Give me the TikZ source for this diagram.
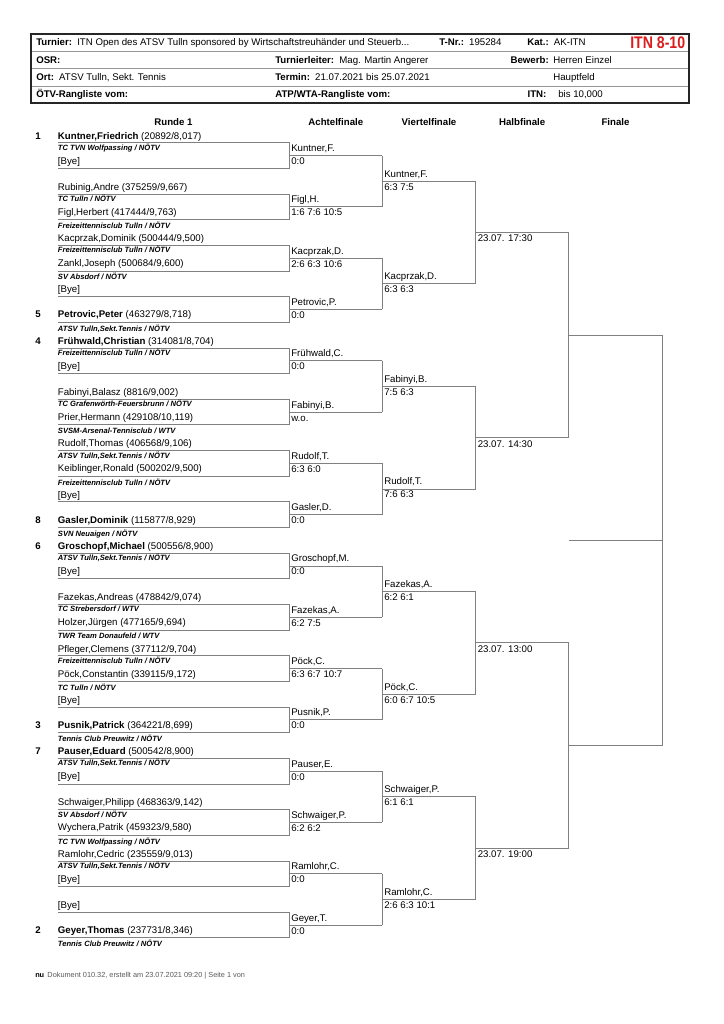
\documentclass[tikz,border=0pt]{standalone}
\usepackage{fontspec}
\setmainfont{Liberation Sans}
\definecolor{lnc}{RGB}{128,128,128}
\definecolor{hdline}{RGB}{150,150,150}
\definecolor{itnred}{RGB}{222,28,28}
\definecolor{foot}{RGB}{90,90,90}
\tikzset{
  ln/.style={draw=lnc, line width=0.6pt},
  nm/.style={anchor=base west, inner sep=0pt, font=\fontsize{7.25}{8.5}\selectfont},
  nmr/.style={anchor=base east, inner sep=0pt, font=\fontsize{7.25}{8.5}\selectfont\bfseries},
  seedtxt/.style={anchor=base west, inner sep=0pt, font=\fontsize{7.25}{8.5}\selectfont\bfseries},
  club/.style={anchor=base west, inner sep=0pt, font=\fontsize{5.7}{6.5}\selectfont\bfseries\itshape},
  colhd/.style={anchor=base, inner sep=0pt, font=\fontsize{7.25}{8.5}\selectfont\bfseries},
}
% #1 index, #2 player A, #3 club A, #4 player B, #5 club B, #6 winner, #7 score, #8 seed A, #9 seed B
\newcommand\rmatch[9]{%
  \pgfmathsetmacro\m{155.5+51.3*(#1-1)}
  \draw[ln] (57.7,\m-12.8) -- (289.3,\m-12.8) -- (289.3,\m+12.8) -- (57.7,\m+12.8);
  \draw[ln] (289.3,\m) -- (382.3,\m);
  \node[seedtxt] (sa#1) at (35,\m-16.5) {#8};
  \node[seedtxt] (sb#1) at (35,\m+8.5) {#9};
  \node[nm] (pa#1) at (57.7,\m-16.5) {#2};
  \node[club] (ca#1) at (57.7,\m-5.3) {#3};
  \node[nm] (pb#1) at (57.7,\m+8.5) {#4};
  \node[club] (cb#1) at (57.7,\m+21.7) {#5};
  \node[nm] (wn#1) at (291,\m-4) {#6};
  \node[nm] (ws#1) at (291,\m+9) {#7};
}
\newcommand\qfmatch[3]{%
  \pgfmathsetmacro\ya{155.5+51.3*(2*#1-2)}
  \pgfmathsetmacro\yb{\ya+51.3}
  \pgfmathsetmacro\q{\ya+25.65}
  \draw[ln] (382.3,\ya) -- (382.3,\yb);
  \draw[ln] (382.3,\q) -- (475.7,\q);
  \node[nm] (qn#1) at (384,\q-4) {#2};
  \node[nm] (qs#1) at (384,\q+9) {#3};
}
\newcommand\hfmatch[2]{%
  \pgfmathsetmacro\ya{155.5+51.3*(4*#1-3.5)}
  \pgfmathsetmacro\yb{\ya+102.6}
  \pgfmathsetmacro\h{\ya+51.3}
  \draw[ln] (475.7,\ya) -- (475.7,\yb);
  \draw[ln] (475.7,\h) -- (568.7,\h);
  \node[nm] (hd#1) at (477.5,\h+9.5) {#2};
}
\begin{document}
\begin{tikzpicture}[x=0.75pt,y=-0.75pt]
\useasboundingbox (0,0) rectangle (724,1024);
\fill[white] (0,0) rectangle (724,1024);

% ---------- header box ----------
\draw[hdline, line width=0.6pt] (31,51) -- (689,51);
\draw[hdline, line width=0.6pt] (31,68.5) -- (689,68.5);
\draw[hdline, line width=0.6pt] (31,86) -- (689,86);
\draw[black!85, line width=1.3pt] (31,34) rectangle (689,103);

\node[nm] (h11) at (36,46) {\textbf{Turnier:}\, ITN Open des ATSV Tulln sponsored by Wirtschaftstreuhänder und Steuerb...};
\node[nm] (h12) at (439,46) {\textbf{T-Nr.:}\, 195284};
\node[nm] (h13) at (527,46) {\textbf{Kat.:}\, AK-ITN};
\node[anchor=base west, inner sep=0pt, text=itnred, font=\fontsize{12.6}{14}\selectfont\bfseries] (h14) at (630,48.5) {\scalebox{0.84}[1]{ITN 8-10}};

\node[nm] (h21) at (36,63.3) {\textbf{OSR:}};
\node[nm] (h22) at (275,63.3) {\textbf{Turnierleiter:}\, Mag. Martin Angerer};
\node[nmr] (h23) at (549,63.3) {Bewerb:};
\node[nm] (h24) at (553,63.3) {Herren Einzel};

\node[nm] (h31) at (36,80.8) {\textbf{Ort:}\, ATSV Tulln, Sekt. Tennis};
\node[nm] (h32) at (275,80.8) {\textbf{Termin:}\, 21.07.2021 bis 25.07.2021};
\node[nm] (h33) at (553,80.8) {Hauptfeld};

\node[nm] (h41) at (36,98) {\textbf{ÖTV-Rangliste vom:}};
\node[nm] (h42) at (275,98) {\textbf{ATP/WTA-Rangliste vom:}};
\node[nmr] (h43) at (546.7,98) {ITN:};
\node[nm] (h44) at (558,98) {bis 10,000};

% ---------- column headings ----------
\node[colhd] (c1) at (173.5,125.5) {Runde 1};
\node[colhd] (c2) at (335.8,125.5) {Achtelfinale};
\node[colhd] (c3) at (429,125.5) {Viertelfinale};
\node[colhd] (c4) at (522.2,125.5) {Halbfinale};
\node[colhd] (c5) at (615.5,125.5) {Finale};

% ---------- round 1 ----------
\rmatch{1}{\textbf{Kuntner,Friedrich} (20892/8,017)}{TC TVN Wolfpassing / NÖTV}{[Bye]}{}{Kuntner,F.}{0:0}{1}{}
\rmatch{2}{Rubinig,Andre (375259/9,667)}{TC Tulln / NÖTV}{Figl,Herbert (417444/9,763)}{Freizeittennisclub Tulln / NÖTV}{Figl,H.}{1:6 7:6 10:5}{}{}
\rmatch{3}{Kacprzak,Dominik (500444/9,500)}{Freizeittennisclub Tulln / NÖTV}{Zankl,Joseph (500684/9,600)}{SV Absdorf / NÖTV}{Kacprzak,D.}{2:6 6:3 10:6}{}{}
\rmatch{4}{[Bye]}{}{\textbf{Petrovic,Peter} (463279/8,718)}{ATSV Tulln,Sekt.Tennis / NÖTV}{Petrovic,P.}{0:0}{}{5}
\rmatch{5}{\textbf{Frühwald,Christian} (314081/8,704)}{Freizeittennisclub Tulln / NÖTV}{[Bye]}{}{Frühwald,C.}{0:0}{4}{}
\rmatch{6}{Fabinyi,Balasz (8816/9,002)}{TC Grafenwörth-Feuersbrunn / NÖTV}{Prier,Hermann (429108/10,119)}{SVSM-Arsenal-Tennisclub / WTV}{Fabinyi,B.}{w.o.}{}{}
\rmatch{7}{Rudolf,Thomas (406568/9,106)}{ATSV Tulln,Sekt.Tennis / NÖTV}{Keiblinger,Ronald (500202/9,500)}{Freizeittennisclub Tulln / NÖTV}{Rudolf,T.}{6:3 6:0}{}{}
\rmatch{8}{[Bye]}{}{\textbf{Gasler,Dominik} (115877/8,929)}{SVN Neuaigen / NÖTV}{Gasler,D.}{0:0}{}{8}
\rmatch{9}{\textbf{Groschopf,Michael} (500556/8,900)}{ATSV Tulln,Sekt.Tennis / NÖTV}{[Bye]}{}{Groschopf,M.}{0:0}{6}{}
\rmatch{10}{Fazekas,Andreas (478842/9,074)}{TC Strebersdorf / WTV}{Holzer,Jürgen (477165/9,694)}{TWR Team Donaufeld / WTV}{Fazekas,A.}{6:2 7:5}{}{}
\rmatch{11}{Pfleger,Clemens (377112/9,704)}{Freizeittennisclub Tulln / NÖTV}{Pöck,Constantin (339115/9,172)}{TC Tulln / NÖTV}{Pöck,C.}{6:3 6:7 10:7}{}{}
\rmatch{12}{[Bye]}{}{\textbf{Pusnik,Patrick} (364221/8,699)}{Tennis Club Preuwitz / NÖTV}{Pusnik,P.}{0:0}{}{3}
\rmatch{13}{\textbf{Pauser,Eduard} (500542/8,900)}{ATSV Tulln,Sekt.Tennis / NÖTV}{[Bye]}{}{Pauser,E.}{0:0}{7}{}
\rmatch{14}{Schwaiger,Philipp (468363/9,142)}{SV Absdorf / NÖTV}{Wychera,Patrik (459323/9,580)}{TC TVN Wolfpassing / NÖTV}{Schwaiger,P.}{6:2 6:2}{}{}
\rmatch{15}{Ramlohr,Cedric (235559/9,013)}{ATSV Tulln,Sekt.Tennis / NÖTV}{[Bye]}{}{Ramlohr,C.}{0:0}{}{}
\rmatch{16}{[Bye]}{}{\textbf{Geyer,Thomas} (237731/8,346)}{Tennis Club Preuwitz / NÖTV}{Geyer,T.}{0:0}{}{2}

% ---------- quarter finals (Viertelfinale) ----------
\qfmatch{1}{Kuntner,F.}{6:3 7:5}
\qfmatch{2}{Kacprzak,D.}{6:3 6:3}
\qfmatch{3}{Fabinyi,B.}{7:5 6:3}
\qfmatch{4}{Rudolf,T.}{7:6 6:3}
\qfmatch{5}{Fazekas,A.}{6:2 6:1}
\qfmatch{6}{Pöck,C.}{6:0 6:7 10:5}
\qfmatch{7}{Schwaiger,P.}{6:1 6:1}
\qfmatch{8}{Ramlohr,C.}{2:6 6:3 10:1}

% ---------- semi finals (Halbfinale) ----------
\hfmatch{1}{23.07. 17:30}
\hfmatch{2}{23.07. 14:30}
\hfmatch{3}{23.07. 13:00}
\hfmatch{4}{23.07. 19:00}

% ---------- final ----------
\coordinate (f1a) at (568.7,232.45);
\coordinate (f1b) at (568.7,437.65);
\coordinate (f2a) at (568.7,642.85);
\coordinate (f2b) at (568.7,848.05);
\coordinate (fl1) at (568.7,335.05);
\coordinate (fr1) at (662.3,335.05);
\coordinate (fl2) at (568.7,745.45);
\coordinate (fr2) at (662.3,745.45);
\coordinate (wl) at (568.7,540.25);
\coordinate (wr) at (662.3,540.25);
\draw[ln] (f1a) -- (f1b);
\draw[ln] (f2a) -- (f2b);
\draw[ln] (fl1) -- (fr1) -- (fr2) -- (fl2);
\draw[ln] (wl) -- (wr);

% ---------- footer ----------
\node[anchor=base west, inner sep=0pt, text=foot, font=\fontsize{5.5}{6.5}\selectfont] (foot) at (35,977.5) {\textcolor{black}{\textbf{nu}}\, Dokument 010.32, erstellt am 23.07.2021 09:20 | Seite 1 von};
\end{tikzpicture}
\end{document}
